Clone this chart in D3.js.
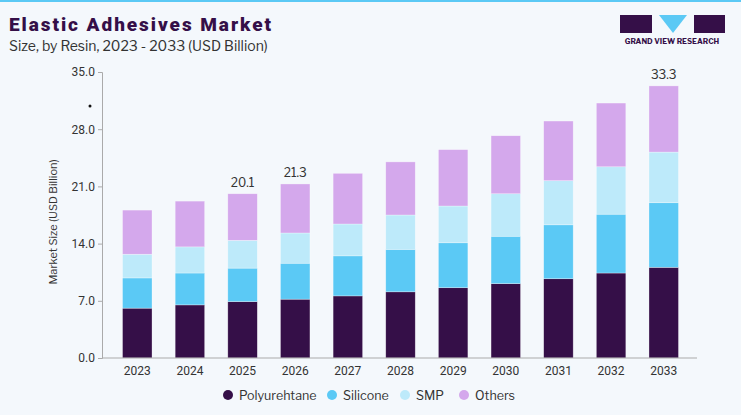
<!DOCTYPE html>
<html><head><meta charset="utf-8">
<script src="https://cdn.jsdelivr.net/npm/d3@7"></script>
<style>body{margin:0;background:#f4f8fc;font-family:"Libre Franklin","Roboto",sans-serif}</style>
</head><body>
<script>
const years = ["2023","2024","2025","2026","2027","2028","2029","2030","2031","2032","2033"];
const series = ["Polyurehtane","Silicone","SMP","Others"];
const colors = ["#350f48","#5bc9f5","#bdeafa","#d4a8ec"];
const polyurethane = [6.1,6.5,6.9,7.2,7.6,8.1,8.6,9.1,9.7,10.4,11.1];
const silicone = [3.7,3.9,4.1,4.4,4.9,5.2,5.5,5.8,6.6,7.2,7.9];
const smp = [2.9,3.2,3.4,3.7,3.9,4.2,4.5,5.2,5.4,5.8,6.2];
const others = [5.4,5.6,5.7,6.0,6.2,6.5,6.9,7.1,7.3,7.8,8.1];
const labelled = {"2025":"20.1","2026":"21.3","2033":"33.3"};
const yTicks = [0,7,14,21,28,35];

const W=741,H=415;
const svg=d3.select("body").append("svg").attr("width",W).attr("height",H);
svg.append("rect").attr("width",W).attr("height",H).attr("fill","#f4f8fc");
svg.append("rect").attr("width",W).attr("height",2).attr("fill","#5bc9f5");

svg.append("text").attr("x",9).attr("y",31).attr("font-size",19).attr("font-weight",900)
  .attr("fill","#350f48").attr("font-family","Roboto").attr("textLength",262).text("Elastic Adhesives Market");
svg.append("text").attr("x",9).attr("y",51).attr("font-size",14).attr("fill","#333")
  .text("Size, by Resin, 2023 - 2033 (USD Billion)");

// logo
const lg=svg.append("g").attr("transform","translate(620,15)");
lg.append("rect").attr("width",32).attr("height",18).attr("fill","#350f48");
lg.append("path").attr("d","M39,0 L67,0 L53,18 Z").attr("fill","#5bc9f5");
lg.append("rect").attr("x",74).attr("width",31).attr("height",18).attr("fill","#350f48");
lg.append("text").attr("x",52).attr("y",29).attr("text-anchor","middle").attr("font-size",7.5)
  .attr("font-weight",700).attr("fill","#350f48").text("GRAND VIEW RESEARCH");

const x=d3.scaleBand().domain(years).range([112,689]).paddingInner(0.44).paddingOuter(0.2);
const y=d3.scaleLinear().domain([0,35]).range([358,72]);

const rows=years.map((yr,i)=>({year:yr,Polyurehtane:polyurethane[i],Silicone:silicone[i],SMP:smp[i],Others:others[i]}));
const stack=d3.stack().keys(series)(rows);

svg.append("g").selectAll("g").data(stack).join("g").attr("fill",(d,i)=>colors[i])
  .selectAll("rect").data(d=>d).join("rect")
  .attr("x",d=>x(d.data.year)).attr("width",x.bandwidth())
  .attr("y",d=>y(d[1])).attr("height",d=>y(d[0])-y(d[1]))
  .attr("stroke","#ffffff").attr("stroke-opacity",0.5).attr("stroke-width",0.6);

svg.append("g").selectAll("text").data(rows.filter(r=>labelled[r.year])).join("text")
  .attr("x",d=>x(d.year)+x.bandwidth()/2).attr("y",d=>y(d3.sum(series,k=>d[k]))-7)
  .attr("text-anchor","middle").attr("font-size",12).attr("fill","#333").text(d=>labelled[d.year]);

const ya=svg.append("g").attr("transform","translate(102,0)")
  .call(d3.axisLeft(y).tickValues(yTicks).tickFormat(d3.format(".1f")).tickSize(4));
ya.select(".domain").attr("stroke","#aaa");
ya.selectAll("line").attr("stroke","#aaa");
ya.selectAll("text").attr("font-size",12).attr("fill","#333").attr("font-family","Roboto");
svg.append("circle").attr("cx",90).attr("cy",106).attr("r",1.5).attr("fill","#111");

const xa=svg.append("g").attr("transform","translate(0,358)").call(d3.axisBottom(x).tickSize(0).tickPadding(8));
xa.select(".domain").attr("d","M102,0H697").attr("stroke","#aaa");
xa.selectAll("text").attr("font-size",12).attr("fill","#333").attr("font-family","Roboto");

svg.append("text").attr("transform","translate(57,222) rotate(-90)").attr("text-anchor","middle")
  .attr("font-size",11).attr("fill","#333").text("Market Size (USD Billion)");

const leg=svg.append("g").attr("transform","translate(0,395)");
const lx=[228,332,405,464];
series.forEach((s,i)=>{
  leg.append("circle").attr("cx",lx[i]).attr("cy",0).attr("r",5).attr("fill",colors[i]);
  leg.append("text").attr("x",lx[i]+11).attr("y",4.5).attr("font-size",12.5).attr("fill","#333").text(s);
});
</script>
</body></html>
